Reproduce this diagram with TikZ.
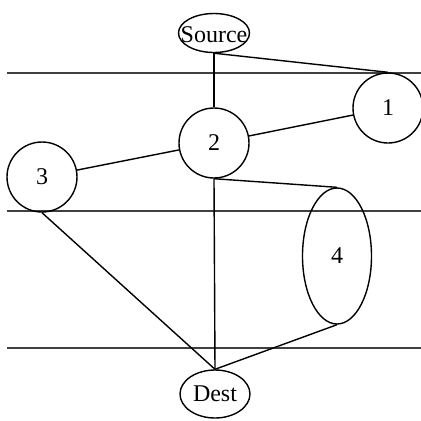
\documentclass[tikz,border=0pt]{standalone}
\usepackage{fontspec}
\setmainfont{Liberation Serif}
\usetikzlibrary{shapes.geometric}
\begin{document}
\begin{tikzpicture}[x=1pt,y=-1pt,
  edge/.style={line width=1.4pt,black},
  band/.style={line width=1.6pt,black!75},
  ell/.style={draw,ellipse,line width=1.4pt,inner sep=0pt,font=\fontsize{24}{27}\selectfont},
  circ/.style={draw,circle,line width=1.4pt,inner sep=0pt,minimum size=70pt,font=\fontsize{24}{27}\selectfont}]
\useasboundingbox (0,0) rectangle (421,421);
% horizontal lines
\coordinate (l1a) at (7,73); \coordinate (l1b) at (421,73);
\coordinate (l2a) at (7,211); \coordinate (l2b) at (421,211);
\coordinate (l3a) at (7,348); \coordinate (l3b) at (421,348);
\draw[band] (l1a) -- (l1b);
\draw[band] (l2a) -- (l2b);
\draw[band] (l3a) -- (l3b);
% nodes
\node[ell,minimum width=71pt,minimum height=39pt,label={[font=\fontsize{24}{27}\selectfont,yshift=-2pt]center:Source}] (src) at (214,33) {};
\node[circ] (n1) at (388,108) {\raisebox{-3pt}{1}};
\node[circ] (n2) at (214,143) {\raisebox{-3pt}{2}};
\node[circ] (n3) at (42,177) {\raisebox{-3pt}{3}};
\node[ell,minimum width=69pt,minimum height=136pt] (n4) at (337,256) {4};
\node[ell,minimum width=70pt,minimum height=48pt] (dest) at (215,394) {\raisebox{-2pt}{Dest}};
% edges
\draw[edge] (src.south) -- (n2.north);
\draw[edge] (src.south) -- (n1.north);
\draw[edge] (n2) -- (n1);
\draw[edge] (n2) -- (n3);
\draw[edge] (n2.south) -- (n4.north);
\draw[edge] (n2.south) -- (dest.north);
\draw[edge] (n3.south) -- (dest.north);
\draw[edge] (n4.south) -- (dest.north);
\end{tikzpicture}
\end{document}
